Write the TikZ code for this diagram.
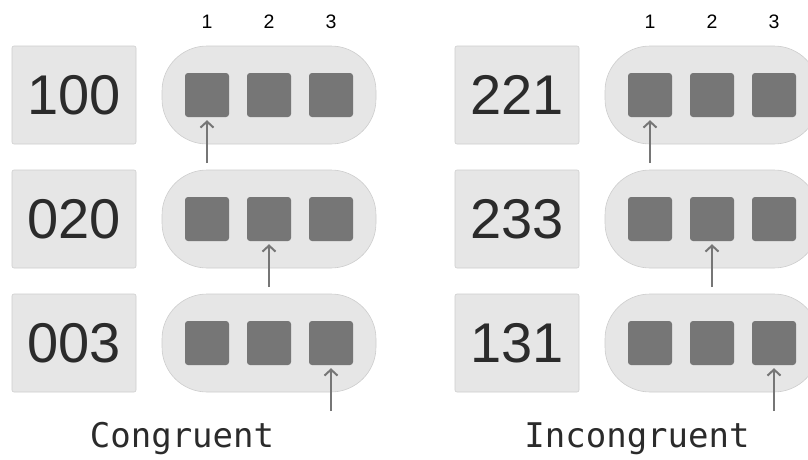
\documentclass[tikz,border=0pt]{standalone}
\usepackage{fontspec}
\setmainfont{Liberation Sans}
\setmonofont{DejaVu Sans Mono}
\usetikzlibrary{arrows.meta}

\definecolor{boxgray}{HTML}{E6E6E6}
\definecolor{edgegray}{HTML}{CDCDCD}
\definecolor{slotgray}{HTML}{767676}
\definecolor{inkgray}{HTML}{2B2B2B}

\tikzset{
  numbox/.style={draw=edgegray, fill=boxgray, rounded corners=2pt, line width=.6pt,
    minimum width=124pt, minimum height=98pt, inner sep=0pt,
    text=inkgray, font=\fontsize{56}{56}\selectfont},
  pill/.style={draw=edgegray, fill=boxgray, rounded corners=45pt, line width=.6pt,
    minimum width=214pt, minimum height=98pt, inner sep=0pt},
  slot/.style={fill=slotgray, rounded corners=3pt, minimum size=44pt, inner sep=0pt},
  colnum/.style={font=\fontsize{19.5}{20}\selectfont, text=black, inner sep=0pt},
  caption/.style={font=\ttfamily\fontsize{34}{34}\selectfont, text=inkgray, anchor=base},
  pointer/.style={draw=slotgray, line width=2pt, shorten >=3pt,
    -{Straight Barb[length=6pt,width=13pt,line width=2pt]}},
}

\begin{document}
\begin{tikzpicture}[x=1pt,y=-1pt]
  \pgfmathsetmacro{\h}{124}
  \pgfmathsetmacro{\d}{443}
  \useasboundingbox (0,0) rectangle (808,459);
  \clip (0,0) rectangle (808,459);

  % congruent side
  \node[colnum] (a1) at (207,21.5) {1};
  \node[colnum] (a2) at (269,21.5) {2};
  \node[colnum] (a3) at (331,21.5) {3};

  \node[numbox] (A1) at (74,95) {100};
  \node[numbox] (A2) at (74,95 + \h) {020};
  \node[numbox] (A3) at (74,95 + \h * 2) {003};

  \node[pill] (P1) at (269,95) {};
  \node[pill] (P2) at (269,95 + \h) {};
  \node[pill] (P3) at (269,95 + \h * 2) {};

  \node[slot] (S11) at (207,95) {};
  \node[slot] (S12) at (269,95) {};
  \node[slot] (S13) at (331,95) {};
  \node[slot] (S21) at (207,95 + \h) {};
  \node[slot] (S22) at (269,95 + \h) {};
  \node[slot] (S23) at (331,95 + \h) {};
  \node[slot] (S31) at (207,95 + \h * 2) {};
  \node[slot] (S32) at (269,95 + \h * 2) {};
  \node[slot] (S33) at (331,95 + \h * 2) {};

  \coordinate (T1) at (207,163);
  \coordinate (T2) at (269,163 + \h);
  \coordinate (T3) at (331,163 + \h * 2);

  \draw[pointer] (T1) -- (S11);
  \draw[pointer] (T2) -- (S22);
  \draw[pointer] (T3) -- (S33);

  \node[caption] (C) at (182,447) {Congruent};

  % incongruent side
  \node[colnum] (b1) at (207 + \d,21.5) {1};
  \node[colnum] (b2) at (269 + \d,21.5) {2};
  \node[colnum] (b3) at (331 + \d,21.5) {3};

  \node[numbox] (B1) at (74 + \d,95) {221};
  \node[numbox] (B2) at (74 + \d,95 + \h) {233};
  \node[numbox] (B3) at (74 + \d,95 + \h * 2) {131};

  \node[pill] (Q1) at (269 + \d,95) {};
  \node[pill] (Q2) at (269 + \d,95 + \h) {};
  \node[pill] (Q3) at (269 + \d,95 + \h * 2) {};

  \node[slot] (R11) at (207 + \d,95) {};
  \node[slot] (R12) at (269 + \d,95) {};
  \node[slot] (R13) at (331 + \d,95) {};
  \node[slot] (R21) at (207 + \d,95 + \h) {};
  \node[slot] (R22) at (269 + \d,95 + \h) {};
  \node[slot] (R23) at (331 + \d,95 + \h) {};
  \node[slot] (R31) at (207 + \d,95 + \h * 2) {};
  \node[slot] (R32) at (269 + \d,95 + \h * 2) {};
  \node[slot] (R33) at (331 + \d,95 + \h * 2) {};

  \coordinate (U1) at (207 + \d,163);
  \coordinate (U2) at (269 + \d,163 + \h);
  \coordinate (U3) at (331 + \d,163 + \h * 2);

  \draw[pointer] (U1) -- (R11);
  \draw[pointer] (U2) -- (R22);
  \draw[pointer] (U3) -- (R33);

  \node[caption] (I) at (637,447) {Incongruent};
\end{tikzpicture}
\end{document}
